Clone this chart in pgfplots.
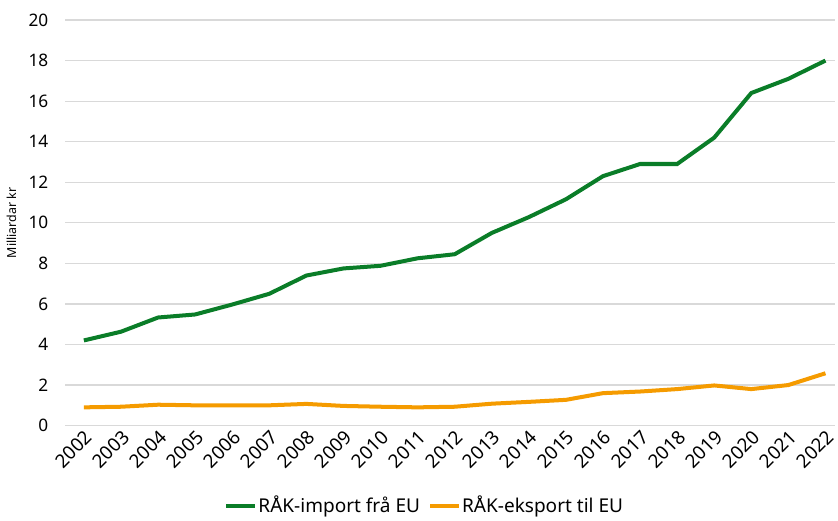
\documentclass[border=0pt]{standalone}
\usepackage{pgfplots}
\pgfplotsset{compat=1.18}
\usepackage{fontspec}
\setmainfont{Noto Sans}
\definecolor{importgreen}{RGB}{10,125,40}
\definecolor{exportorange}{RGB}{245,155,0}
\definecolor{gridgray}{RGB}{217,217,217}
\begin{document}
\begin{tikzpicture}
\begin{axis}[
	scale only axis,
	width=384.5pt,
	height=202.5pt,
	xmin=2001.5, xmax=2022.27,
	ymin=0, ymax=20,
	xtick={2002,...,2022},
	ytick={0,2,...,20},
	xticklabel style={rotate=45, anchor=north east, inner sep=1pt, font=\fontsize{9.4}{10}\selectfont},
	yticklabel style={font=\fontsize{8.6}{10}\selectfont, xshift=-5pt},
	/pgf/number format/assume math mode=true,
	/pgf/number format/1000 sep={},
	major tick length=0pt,
	axis line style={draw=none},
	ymajorgrids,
	grid style={gridgray, line width=0.6pt},
	ylabel={Milliardar kr},
	ylabel style={at={(axis description cs:-0.070,0.5)}, anchor=center, font=\fontsize{6.2}{7}\selectfont},
	legend style={at={(0.466,-0.198)}, anchor=center, draw=none, legend columns=2,
		font=\fontsize{9.5}{11}\selectfont, nodes={inner sep=0.5pt},
		/tikz/every even column/.append style={column sep=3.5pt}},
	legend image code/.code={\draw[#1, line width=2pt] (0pt,0pt) -- (14.5pt,0pt);},
]
\addplot[importgreen, line width=2pt] coordinates {
	(2002,4.2) (2003,4.63) (2004,5.33) (2005,5.48) (2006,5.97) (2007,6.5)
	(2008,7.4) (2009,7.75) (2010,7.88) (2011,8.25) (2012,8.45) (2013,9.5)
	(2014,10.28) (2015,11.16) (2016,12.3) (2017,12.9) (2018,12.9) (2019,14.2)
	(2020,16.4) (2021,17.1) (2022,18.0)
};
\addlegendentry{RÅK-import frå EU}
\addplot[exportorange, line width=2pt] coordinates {
	(2002,0.9) (2003,0.93) (2004,1.03) (2005,1.0) (2006,1.0) (2007,1.0)
	(2008,1.07) (2009,0.97) (2010,0.93) (2011,0.9) (2012,0.93) (2013,1.08)
	(2014,1.17) (2015,1.27) (2016,1.6) (2017,1.68) (2018,1.8) (2019,1.98)
	(2020,1.8) (2021,2.0) (2022,2.58)
};
\addlegendentry{RÅK-eksport til EU}
\end{axis}
\path ([yshift=10pt]current axis.north);
\end{tikzpicture}
\end{document}
